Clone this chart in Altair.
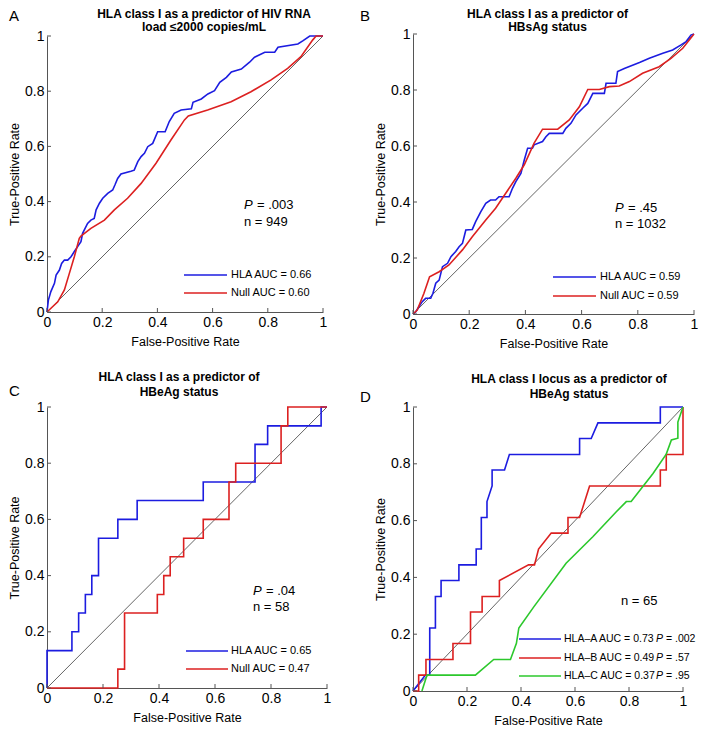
import altair as alt
import pandas as pd

FONT = "Liberation Sans"
BLUE = "#1c1ce0"
RED = "#dc2020"
GREEN = "#2cc82c"
AXIS_C = "#555555"

TICKS = [0, 0.2, 0.4, 0.6, 0.8, 1]

# ---------------- Panel A : HIV RNA load ----------------
A_HLA_FPR = [0, 0.005, 0.014, 0.027, 0.033, 0.045, 0.053, 0.063, 0.075, 0.087, 0.099, 0.111,
             0.123, 0.129, 0.138, 0.147, 0.159, 0.171, 0.178, 0.19, 0.202, 0.22, 0.238, 0.246,
             0.256, 0.268, 0.304, 0.316, 0.329, 0.341, 0.353, 0.365, 0.383, 0.401, 0.428, 0.443,
             0.461, 0.486, 0.523, 0.529, 0.559, 0.583, 0.607, 0.626, 0.65, 0.668, 0.704, 0.734,
             0.752, 0.789, 0.825, 0.837, 0.909, 0.928, 0.952, 1.0]
A_HLA_TPR = [0, 0.043, 0.074, 0.104, 0.134, 0.152, 0.176, 0.188, 0.188, 0.2, 0.219, 0.237,
             0.255, 0.285, 0.303, 0.321, 0.333, 0.339, 0.37, 0.394, 0.412, 0.43, 0.442, 0.46,
             0.484, 0.5, 0.51, 0.514, 0.545, 0.563, 0.575, 0.599, 0.611, 0.653, 0.653, 0.69,
             0.72, 0.732, 0.736, 0.76, 0.772, 0.79, 0.802, 0.832, 0.85, 0.87, 0.88, 0.905,
             0.923, 0.941, 0.941, 0.959, 0.971, 0.983, 1.0, 1.0]
A_NULL_FPR = [0, 0.039, 0.063, 0.081, 0.099, 0.117, 0.123, 0.159, 0.208, 0.244, 0.292, 0.341,
              0.395, 0.449, 0.498, 0.512, 0.582, 0.667, 0.739, 0.812, 0.872, 0.92, 0.963, 0.975, 1.0]
A_NULL_TPR = [0, 0.037, 0.08, 0.14, 0.2, 0.267, 0.275, 0.303, 0.333, 0.37, 0.412, 0.466,
              0.539, 0.623, 0.696, 0.71, 0.732, 0.762, 0.798, 0.841, 0.883, 0.925, 0.986, 1.0, 1.0]

# ---------------- Panel B : HBsAg ----------------
B_HLA_FPR = [0, 0.01, 0.021, 0.033, 0.045, 0.063, 0.071, 0.081, 0.093, 0.099, 0.105, 0.123,
             0.135, 0.152, 0.164, 0.176, 0.182, 0.188, 0.211, 0.223, 0.241, 0.259, 0.276, 0.294,
             0.306, 0.342, 0.354, 0.366, 0.384, 0.396, 0.408, 0.425, 0.431, 0.461, 0.473, 0.485,
             0.533, 0.544, 0.562, 0.58, 0.604, 0.622, 0.64, 0.681, 0.687, 0.722, 0.728, 0.752,
             0.806, 0.841, 0.889, 0.924, 0.954, 0.972, 0.989, 1.0]
B_HLA_TPR = [0, 0.008, 0.026, 0.044, 0.056, 0.056, 0.074, 0.11, 0.121, 0.145, 0.169, 0.181,
             0.205, 0.223, 0.24, 0.252, 0.276, 0.3, 0.302, 0.33, 0.365, 0.395, 0.407, 0.407,
             0.419, 0.419, 0.449, 0.473, 0.502, 0.55, 0.592, 0.592, 0.604, 0.616, 0.633, 0.645,
             0.645, 0.663, 0.681, 0.711, 0.735, 0.752, 0.788, 0.788, 0.824, 0.824, 0.866, 0.877,
             0.898, 0.913, 0.931, 0.943, 0.961, 0.973, 0.996, 1.0]
B_NULL_FPR = [0, 0.015, 0.039, 0.059, 0.093, 0.128, 0.176, 0.211, 0.259, 0.294, 0.33, 0.366,
              0.396, 0.431, 0.461, 0.515, 0.556, 0.592, 0.622, 0.663, 0.699, 0.734, 0.77, 0.817,
              0.876, 0.918, 0.96, 1.0]
B_NULL_TPR = [0, 0.014, 0.074, 0.133, 0.151, 0.175, 0.229, 0.276, 0.336, 0.378, 0.431, 0.485,
              0.533, 0.61, 0.66, 0.66, 0.693, 0.74, 0.802, 0.802, 0.812, 0.814, 0.83, 0.86,
              0.883, 0.913, 0.949, 1.0]

# ---------------- Panel C : HBeAg (step curves) ----------------
C_HLA_FPR = [0, 0, 0.089, 0.113, 0.137, 0.16, 0.184, 0.253, 0.322, 0.558, 0.743, 0.788, 0.979, 1.0]
C_HLA_TPR = [0, 0.133, 0.2, 0.267, 0.333, 0.4, 0.533, 0.6, 0.667, 0.733, 0.867, 0.933, 1.0, 1.0]
C_NULL_FPR = [0, 0.253, 0.277, 0.394, 0.417, 0.44, 0.488, 0.558, 0.65, 0.674, 0.836, 0.86, 1.0]
C_NULL_TPR = [0, 0.067, 0.267, 0.333, 0.4, 0.467, 0.533, 0.6, 0.733, 0.8, 0.933, 1.0, 1.0]

# ---------------- Panel D : HLA loci ----------------
D_A_FPR = [0, 0.046, 0.062, 0.062, 0.083, 0.083, 0.104, 0.104, 0.17, 0.17, 0.234, 0.234, 0.253,
           0.253, 0.274, 0.274, 0.293, 0.293, 0.339, 0.357, 0.617, 0.617, 0.66, 0.685, 0.916,
           0.916, 1.0]
D_A_TPR = [0, 0.056, 0.056, 0.222, 0.222, 0.333, 0.333, 0.389, 0.389, 0.444, 0.444, 0.5, 0.5,
           0.611, 0.611, 0.667, 0.722, 0.778, 0.778, 0.833, 0.833, 0.889, 0.889, 0.944, 0.944,
           1.0, 1.0]
D_B_FPR = [0, 0.021, 0.021, 0.048, 0.048, 0.148, 0.148, 0.213, 0.213, 0.256, 0.256, 0.32, 0.32,
           0.428, 0.45, 0.465, 0.512, 0.574, 0.574, 0.617, 0.654, 0.916, 0.916, 0.938, 0.938,
           1.0, 1.0]
D_B_TPR = [0, 0, 0.056, 0.056, 0.111, 0.111, 0.167, 0.167, 0.278, 0.278, 0.333, 0.333, 0.389,
           0.444, 0.444, 0.5, 0.556, 0.556, 0.611, 0.611, 0.722, 0.722, 0.778, 0.778, 0.833,
           0.833, 1.0]
D_C_FPR = [0.033, 0.052, 0.231, 0.299, 0.361, 0.383, 0.392, 0.448, 0.567, 0.666, 0.753, 0.79,
           0.808, 0.889, 0.938, 0.957, 0.981, 0.981, 1.0]
D_C_TPR = [0, 0.056, 0.056, 0.111, 0.111, 0.168, 0.222, 0.297, 0.45, 0.543, 0.631, 0.667,
           0.667, 0.766, 0.834, 0.884, 0.89, 0.947, 1.0]


def curve_df(fpr, tpr):
    assert len(fpr) == len(tpr)
    return pd.DataFrame({"fpr": fpr, "tpr": tpr, "i": list(range(len(fpr)))})


ONE = pd.DataFrame({"a": [0]})


def text_layer(txt, x, y, size, style="normal", weight="normal", baseline="middle", align="left"):
    return alt.Chart(ONE).mark_text(
        text=txt, align=align, baseline=baseline, font=FONT, fontSize=size,
        fontStyle=style, fontWeight=weight, color="black"
    ).encode(x=alt.value(x), y=alt.value(y))


def panel(w, h, title, title_dx, title_ys, letter, letter_xy, curves, legend, notes):
    xs = alt.Scale(domain=[0, 1], nice=False, zero=False)
    ys = alt.Scale(domain=[0, 1], nice=False, zero=False)
    X = alt.X("fpr:Q", scale=xs,
              axis=alt.Axis(values=TICKS, format="~g", title="False-Positive Rate", labelFlush=False))
    Y = alt.Y("tpr:Q", scale=ys,
              axis=alt.Axis(values=TICKS, format="~g", title="True-Positive Rate", labelFlush=False))
    layers = [alt.Chart(curve_df([0, 1], [0, 1])).mark_line(color="#222222", strokeWidth=0.7)
              .encode(x=X, y=Y)]
    for fpr, tpr, color, interp in curves:
        layers.append(alt.Chart(curve_df(fpr, tpr))
                      .mark_line(color=color, strokeWidth=1.6, interpolate=interp)
                      .encode(x=X, y=Y, order="i:Q"))
    tick_df = pd.DataFrame({"fpr": TICKS, "tpr": TICKS})
    layers.append(alt.Chart(tick_df).mark_rule(color=AXIS_C, strokeWidth=1)
                  .encode(x=X, y=alt.value(h), y2=alt.value(h - 4)))
    layers.append(alt.Chart(tick_df).mark_rule(color=AXIS_C, strokeWidth=1)
                  .encode(y=Y, x=alt.value(0), x2=alt.value(4)))
    # legend (drawn by hand, MATLAB style without a box)
    for row in legend:
        layers.append(alt.Chart(ONE).mark_rule(color=row["color"], strokeWidth=1.6)
                      .encode(x=alt.value(row["x1"]), x2=alt.value(row["x2"]), y=alt.value(row["y"])))
        layers.append(text_layer(row["label"], row["tx"], row["y"], row["size"]))
        if "p" in row:
            layers.append(text_layer("P", row["tx"] + row["pdx"], row["y"], row["size"], style="italic"))
            layers.append(text_layer(row["p"], row["tx"] + row["pdx"] + row["size"] * 0.95,
                                     row["y"], row["size"]))
    for n in notes:
        layers.append(text_layer(n["text"], n["x"], n["y"], 13, style=n.get("style", "normal")))
    # two-line bold title and panel letter
    for line, ty in zip(title, title_ys):
        layers.append(text_layer(line, w / 2 + title_dx, ty, 12, weight="bold", align="center"))
    layers.append(text_layer(letter, letter_xy[0], letter_xy[1], 15, baseline="top"))
    return alt.layer(*layers).properties(width=w, height=h)


pA = panel(
    276, 276, ["HLA class I as a predictor of HIV RNA", "load ≤2000 copies/mL"], 19, (-22, -9),
    "A", (-38, -27.5),
    [(A_HLA_FPR, A_HLA_TPR, BLUE, "linear"), (A_NULL_FPR, A_NULL_TPR, RED, "linear")],
    [dict(x1=137, x2=180, y=239, tx=184, color=BLUE, label="HLA AUC = 0.66", size=11),
     dict(x1=137, x2=180, y=257, tx=184, color=RED, label="Null AUC = 0.60", size=11)],
    [dict(text="P", x=197, y=169, style="italic"), dict(text="= .003", x=210, y=169),
     dict(text="n = 949", x=197, y=186)],
)
pB = panel(
    281, 280, ["HLA class I as a predictor of", "HBsAg status"], -6, (-20, -7),
    "B", (-53, -25.5),
    [(B_HLA_FPR, B_HLA_TPR, BLUE, "linear"), (B_NULL_FPR, B_NULL_TPR, RED, "linear")],
    [dict(x1=140, x2=183, y=243, tx=187, color=BLUE, label="HLA AUC = 0.59", size=11),
     dict(x1=140, x2=183, y=262, tx=187, color=RED, label="Null AUC = 0.59", size=11)],
    [dict(text="P", x=202, y=174, style="italic"), dict(text="= .45", x=215, y=174),
     dict(text="n = 1032", x=202, y=190)],
)
pC = panel(
    280, 281, ["HLA class I as a predictor of", "HBeAg status"], -8, (-30, -15),
    "C", (-38, -23),
    [(C_HLA_FPR, C_HLA_TPR, BLUE, "step-after"), (C_NULL_FPR, C_NULL_TPR, RED, "step-after")],
    [dict(x1=139, x2=181, y=244, tx=184, color=BLUE, label="HLA AUC = 0.65", size=11),
     dict(x1=139, x2=181, y=262, tx=184, color=RED, label="Null AUC = 0.47", size=11)],
    [dict(text="P", x=206, y=184, style="italic"), dict(text="= .04", x=219, y=184),
     dict(text="n = 58", x=206, y=200)],
)
pD = panel(
    270, 284, ["HLA class I locus as a predictor of", "HBeAg status"], 21, (-28.5, -13.5),
    "D", (-53, -17.5),
    [(D_A_FPR, D_A_TPR, BLUE, "linear"), (D_B_FPR, D_B_TPR, RED, "linear"),
     (D_C_FPR, D_C_TPR, GREEN, "linear")],
    [dict(x1=106, x2=148, y=232, tx=151, color=BLUE, label="HLA–A AUC = 0.73", size=10.5,
          p="= .002", pdx=92),
     dict(x1=106, x2=148, y=251, tx=151, color=RED, label="HLA–B AUC = 0.49", size=10.5,
          p="= .57", pdx=92),
     dict(x1=106, x2=148, y=269, tx=151, color=GREEN, label="HLA–C AUC = 0.37", size=10.5,
          p="= .95", pdx=92)],
    [dict(text="n = 65", x=208, y=194)],
)

chart = alt.concat(
    pA, pB, pC, pD, columns=2,
    spacing={"row": 93, "column": 86},
    bounds="flush",
    center={"row": True, "column": False},
).properties(
    padding=0,
).configure_view(
    stroke=None
).configure_axis(
    domainColor=AXIS_C, domainWidth=1, tickSize=0, grid=False,
    labelFont=FONT, labelFontSize=14, labelColor="black", labelPadding=3,
    titleFont=FONT, titleFontSize=12.5, titleFontWeight="normal", titleColor="black",
).configure_axisX(
    titlePadding=6
).configure_axisY(
    titlePadding=3
)

chart.save("out.html", embed_options={"renderer": "svg", "actions": False})
